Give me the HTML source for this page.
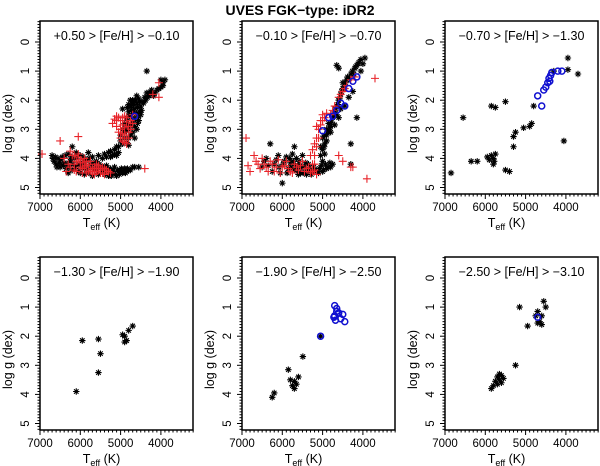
<!DOCTYPE html>
<html><head><meta charset="utf-8">
<style>
html,body{margin:0;padding:0;background:#fff;}
svg{display:block;font-family:"Liberation Sans",Arial,sans-serif;}
</style></head>
<body>
<svg id="chart" width="600" height="466" viewBox="0 0 600 466" xmlns="http://www.w3.org/2000/svg">
<text x="300" y="15" text-anchor="middle" font-size="14" font-weight="bold">UVES FGK−type: iDR2</text>
</svg>
<script>
const panelLabels = ["+0.50 > [Fe/H] > −0.10","−0.10 > [Fe/H] > −0.70","−0.70 > [Fe/H] > −1.30","−1.30 > [Fe/H] > −1.90","−1.90 > [Fe/H] > −2.50","−2.50 > [Fe/H] > −3.10"];
const xTicks = [7000,6000,5000,4000];
const yTicks = [0,1,2,3,4,5];
// data: [Teff, logg]
const stars1 = [[6700,3.9],[6650,4.1],[6600,4.2],[6550,4.0],[6500,4.3],[6450,3.95],[6400,4.15],[6350,4.35],[6300,3.85],[6250,4.1],[6200,4.4],[6150,4.0],[6100,4.25],[6050,4.45],[6000,3.9],[5950,4.15],[5900,4.35],[5850,4.05],[5800,4.5],[5750,4.2],[5700,3.95],[5650,4.4],[5600,4.1],[5550,4.55],[5500,4.3],[5450,4.0],[5400,4.45],[5350,4.25],[5300,4.6],[5250,4.35],[5200,4.5],[5150,4.3],[5100,4.6],[5050,4.45],[5000,4.4],[4950,4.5],[4900,4.35],[4850,4.45],[4800,4.4],[4700,4.3],[6200,3.6],[5800,3.8],[5550,3.9],[5400,3.85],[5300,3.8],[5250,3.75],[5200,3.9],[5150,3.7],[5100,3.6],[5050,3.8],[5000,3.4],[4950,3.5],[5000,3.2],[4950,3.0],[4900,2.8],[4850,2.6],[4800,2.4],[4750,2.2],[4700,2.0],[4650,2.3],[4600,2.1],[4550,1.95],[4500,2.2],[4450,2.05],[4400,1.9],[4350,1.75],[4300,1.85],[4250,1.7],[4200,1.8],[4100,1.65],[4000,1.55],[3950,1.4],[3900,1.3],[4350,1.0],[4800,3.3],[4900,3.1],[4650,2.9],[4700,2.6],[4800,2.15],[4600,2.45],[4550,2.7],[4500,2.5],[5100,3.9],[4850,3.05],[4750,2.85],[4950,2.3],[4600,1.85],[4700,2.75],[6000,4.5],[5700,4.6],[5600,4.35],[5900,4.55],
[6680,4.0],[6620,3.95],[6580,4.3],[6520,4.15],[6480,4.05],[6420,4.25],[6380,3.9],[6330,4.2],[6280,4.3],[6230,3.95],[6180,4.2],[6130,4.35],[6080,3.95],[6030,4.2],[5980,4.3],[5930,3.95],[5880,4.2],[5830,4.4],[5780,4.0],[5730,4.3],[5680,4.15],[5630,4.25],[5580,4.45],[5530,4.2],[5480,4.45],[5430,4.3],[5380,4.55],[5330,4.4],[5280,4.5],[5230,4.6],[5180,4.4],[5130,4.55],[5080,4.4],[5030,4.55],[4980,4.35],[4930,4.45],[4880,4.5],[4830,4.35],[4760,4.4],[4650,4.3],[4550,4.3],[6100,3.8],[6300,4.5],[5900,4.05],[5350,3.95],
[4880,2.95],[4830,2.75],[4780,2.55],[4730,2.35],[4680,2.15],[4630,2.0],[4580,2.25],[4530,2.05],[4480,2.35],[4430,2.1],[4380,2.0],[4330,1.9],[4280,1.75],[4230,1.65],[4180,1.85],[4150,1.75],[4050,1.6],[4900,3.3],[4850,3.45],[4800,3.55],[4750,3.2],[4700,3.1],[4650,3.3],[4600,3.0],[4580,2.8],[4520,2.4],[4560,2.55],[4780,2.95],[4680,2.4],[4640,2.65],[4720,2.1],[4830,2.25],[4760,2.0],[5050,3.6],[5150,3.85],[5250,3.95],[4000,1.3],[3950,1.5]];
const crosses1 = [[6950,3.85],[6500,3.4],[6050,3.25],[6400,4.0],[6300,4.2],[6200,3.9],[6150,4.4],[6100,4.1],[6050,3.85],[6000,4.3],[5950,4.5],[5900,4.0],[5850,4.25],[5800,4.45],[5750,4.1],[5700,4.35],[5650,4.55],[5600,4.2],[5550,4.4],[5500,4.5],[5450,4.3],[5400,4.55],[5350,4.4],[5250,4.5],[5200,2.8],[5150,2.65],[5100,2.9],[5050,3.1],[5000,2.7],[4950,2.85],[4900,3.2],[4850,2.6],[4800,2.9],[4750,3.0],[4700,2.5],[4950,3.4],[5050,2.6],[4900,2.55],[4850,3.3],[4400,4.35],[4050,1.4],[4050,1.9],[4200,1.8],[5950,4.15],[6000,4.05],[6250,3.75],
[6350,4.45],[6250,4.3],[6150,4.2],[6100,4.45],[6000,4.15],[5900,4.3],[5850,4.5],[5800,4.2],[5700,4.5],[5650,4.3],[5600,4.45],[5550,4.25],[5500,4.35],[5450,4.5],[5400,4.35],[5300,4.45],[6050,3.95],[6150,3.9],[5950,4.35],[5750,4.4],[5850,4.1],[5100,2.7],[5000,3.0],[4950,2.6],[4900,2.95],[4850,2.75],[4800,3.1],[5000,3.3],[4900,3.45],[4800,3.3],[4750,2.7],[5100,2.55],[4950,3.15],[4850,3.5],[4700,2.8]];
const circles1 = [[4650,2.55]];
const stars2 = [[6500,4.3],[6400,4.0],[6300,3.5],[6200,4.2],[6100,3.9],[6000,4.85],[6050,4.5],[5950,4.1],[5900,3.95],[5850,4.35],[5800,4.15],[5750,3.85],[5700,4.4],[5650,4.0],[5600,4.25],[5550,4.5],[5500,3.9],[5450,4.3],[5400,4.55],[5350,4.2],[5300,4.45],[5250,4.5],[5200,4.4],[5100,4.5],[5000,4.45],[4900,4.35],[4800,4.3],[4750,4.2],[5700,3.6],[5050,3.9],[5000,3.7],[4950,3.5],[4950,3.2],[4900,3.0],[4850,2.8],[4800,2.9],[4750,2.6],[4700,2.4],[4650,2.2],[4600,2.0],[4550,1.8],[4500,1.6],[4450,1.5],[4400,1.3],[4300,1.1],[4200,0.9],[4150,0.8],[4100,0.7],[4050,0.6],[3950,0.55],[4600,0.9],[4650,0.8],[4500,1.4],[4150,2.6],[4300,3.5],[4300,4.2],[4900,3.4],[4800,3.1],[4700,2.85],[4600,2.6],[4450,2.2],[4350,1.9],[4250,1.7],[4050,1.0],[4000,0.75],[4650,2.5],[4550,2.3],[5600,4.55],[6250,4.45],
[6450,4.1],[6350,4.25],[6150,4.05],[6080,4.3],[5980,4.2],[5880,4.5],[5820,4.0],[5780,4.3],[5720,4.1],[5680,4.25],[5620,4.4],[5580,4.1],[5520,4.3],[5480,4.5],[5420,4.15],[5380,4.4],[5320,4.3],[5280,4.55],[5220,4.3],[5150,4.45],[5080,4.35],[5030,4.25],[4980,4.4],[4930,4.2],[4870,4.3],[4820,4.15],[5000,4.1],[4950,3.85],[5050,3.6],[5000,3.3],[4960,3.6],[4850,3.1],[4780,2.75],[4720,2.55],[4680,2.3],[4620,2.15],[4580,1.95],[4530,1.7],[4480,1.6],[4430,1.4],[4380,1.2],[4330,1.25],[4260,1.0],[4220,1.1],[4180,0.85],[4120,0.75],[4900,3.2],[4820,2.95]];
const crosses2 = [[6900,3.3],[6850,4.25],[6800,4.45],[6700,3.9],[6600,4.2],[6500,4.0],[6400,4.3],[6300,4.1],[6200,4.45],[6100,4.05],[6000,4.3],[5900,4.1],[5800,4.45],[5700,4.2],[5600,4.4],[5500,4.1],[5400,4.35],[5300,4.5],[5200,4.4],[5150,4.55],[5250,3.7],[5200,3.5],[5150,3.3],[5100,3.0],[5050,2.7],[5000,2.5],[4950,2.6],[4800,2.5],[4700,2.2],[4600,1.9],[4500,1.7],[4400,1.5],[4300,1.3],[4200,1.2],[3700,1.25],[4600,3.9],[4500,4.1],[4300,4.3],[4250,4.3],[3900,4.7],[5300,3.9],[5250,4.2],
[6650,4.1],[6550,4.35],[6450,4.2],[6350,4.45],[6250,4.2],[6150,4.3],[6050,4.5],[5950,4.25],[5850,4.35],[5750,4.5],[5650,4.3],[5550,4.25],[5450,4.45],[5350,4.3],[5250,4.45],[5200,4.2],[5200,3.9],[5150,3.6],[5100,3.3],[5150,2.9],[5050,2.85],[5000,2.7],[4900,2.45],[4750,2.35],[4550,1.8],[4450,1.6]];
const circles2 = [[5000,3.05],[4850,2.6],[4750,2.55],[4650,2.35],[4550,2.1],[4450,2.2],[4350,1.6],[4250,1.35],[4150,1.2]];
const stars3 = [[6850,4.5],[6550,2.6],[6350,4.1],[6200,4.1],[5850,2.2],[5750,2.25],[5500,2.05],[5950,3.95],[5900,4.05],[5850,3.9],[5800,4.0],[5800,4.2],[5750,3.85],[5780,4.1],[5500,4.4],[5400,4.45],[5300,3.6],[5300,3.25],[5250,3.1],[5050,2.95],[4900,2.9],[4850,2.8],[4800,2.2],[4300,1.0],[4050,3.4],[3950,0.55],[3950,0.95],[3700,1.1]];
const circles3 = [[4700,1.85],[4600,2.2],[4550,1.65],[4500,1.55],[4450,1.4],[4420,1.25],[4380,1.15],[4350,1.05],[4200,1.0],[4100,1.0],[4400,1.35]];
const stars4 = [[6100,3.9],[5950,2.15],[5550,2.1],[5500,2.6],[5550,3.25],[4950,1.95],[4900,2.0],[4900,2.2],[4850,2.15],[4800,1.8],[4700,1.65]];
const circles4 = [];
const stars5 = [[6250,4.1],[6200,3.95],[5850,3.15],[5800,3.5],[5750,3.7],[5700,3.55],[5650,3.65],[5700,3.8],[5600,3.4],[5490,2.7],[5050,2.0]];
const circles5 = [[5050,2.0],[4700,0.95],[4650,1.15],[4700,1.3],[4680,1.45],[4600,1.2],[4500,1.25],[4450,1.5],[4550,1.4],[4650,1.05],[4720,1.35]];
const stars6 = [[5850,3.8],[5800,3.7],[5750,3.55],[5700,3.4],[5650,3.5],[5600,3.6],[5550,3.45],[5700,3.65],[5650,3.3],[5600,3.35],[5250,3.0],[5150,1.0],[4950,1.65],[4750,1.3],[4700,1.15],[4650,1.5],[4600,1.6],[4600,1.3],[4550,0.8],[4500,1.0],[4700,1.55]];
const circles6 = [[4700,1.35]];
const starSets = [stars1,stars2,stars3,stars4,stars5,stars6];
const crossSets = [crosses1,crosses2,[],[],[],[]];
const circleSets = [circles1,circles2,circles3,circles4,circles5,circles6];

const NS = "http://www.w3.org/2000/svg";
const svg = document.getElementById('chart');
const lefts = [40,242,445], tops = [21,257], W = 153, H = 173;
function mk(tag, attrs, parent){const e=document.createElementNS(NS,tag);for(const k in attrs)e.setAttribute(k,attrs[k]);(parent||svg).appendChild(e);return e;}

for(let p=0;p<6;p++){
  const L = lefts[p%3], T = tops[Math.floor(p/3)];
  const xs = t => L + (7000 - t) * 0.0403;
  const ys = g => T + 21 + g * 29.1;
  const g = mk('g',{});
  
  
  for(let t=7000;t>=3200;t-=100){
    const major = t%1000===0;
    const tk = mk('line',{x1:xs(t),x2:xs(t),y1:T+H,y2:T+H+(major?5:2.5),stroke:'#000','stroke-width':1},g);
    
    
  }
  for(let v=-0.7;v<=5.21;v+=0.1){
    const r = Math.round(v*10)/10;
    const major = Math.abs(r-Math.round(r))<1e-6;
    const tk = mk('line',{x1:L,x2:L-(major?5:2.5),y1:ys(r),y2:ys(r),stroke:'#000','stroke-width':1},g);
    
    
  }
  xTicks.forEach(t=>{
    const tx = mk('text',{x:xs(t),y:T+H+17,'text-anchor':'middle','font-size':11.5},g);
    tx.textContent = t;
    
    
  });
  yTicks.forEach(v=>{
    const tx = mk('text',{x:0,y:0,'text-anchor':'middle','font-size':11.5,transform:`translate(${L-11},${ys(v)}) rotate(-90)`},g);
    tx.textContent = v;
    
    
  });
  const xt = mk('text',{x:L+W/2-15,y:T+H+33,'text-anchor':'middle','font-size':12.5},g);
  xt.innerHTML = 'T<tspan font-size="9" dy="3">eff</tspan><tspan dy="-3"> (K)</tspan>';
  
  
  const yt = mk('text',{x:0,y:0,'text-anchor':'middle','font-size':12.5,transform:`translate(${L-28},${T+H/2+16}) rotate(-90)`},g);
  yt.textContent = 'log g (dex)';
  
  
  starSets[p].forEach(d=>{
    const x=xs(d[0]), y=ys(d[1]), r=3.2;
    const s = mk('path',{d:`M${x-r},${y}H${x+r}M${x},${y-r}V${y+r}M${x-r*0.7},${y-r*0.7}L${x+r*0.7},${y+r*0.7}M${x-r*0.7},${y+r*0.7}L${x+r*0.7},${y-r*0.7}`,stroke:'#000','stroke-width':1.1,fill:'none'},g);
    
    
  });
  crossSets[p].forEach(d=>{
    const x=xs(d[0]), y=ys(d[1]);
    const c = mk('path',{d:`M${x-4},${y}H${x+4}M${x},${y-4}V${y+4}`,stroke:'#e8242a','stroke-width':1.1,fill:'none'},g);
    
    
  });
  circleSets[p].forEach(d=>{
    const c = mk('circle',{cx:xs(d[0]),cy:ys(d[1]),r:3,stroke:'#1010d0','stroke-width':1.5,fill:'none'},g);
    
    
  });
  const lb = mk('text',{x:L+W/2,y:T+19,'text-anchor':'middle','font-size':12.5},g);
  lb.textContent = panelLabels[p];
  
  
  const fr = mk('rect',{x:L,y:T,width:W,height:H,fill:'none',stroke:'#000','stroke-width':1.5},g);
  
  
}
</script>
</body></html>
